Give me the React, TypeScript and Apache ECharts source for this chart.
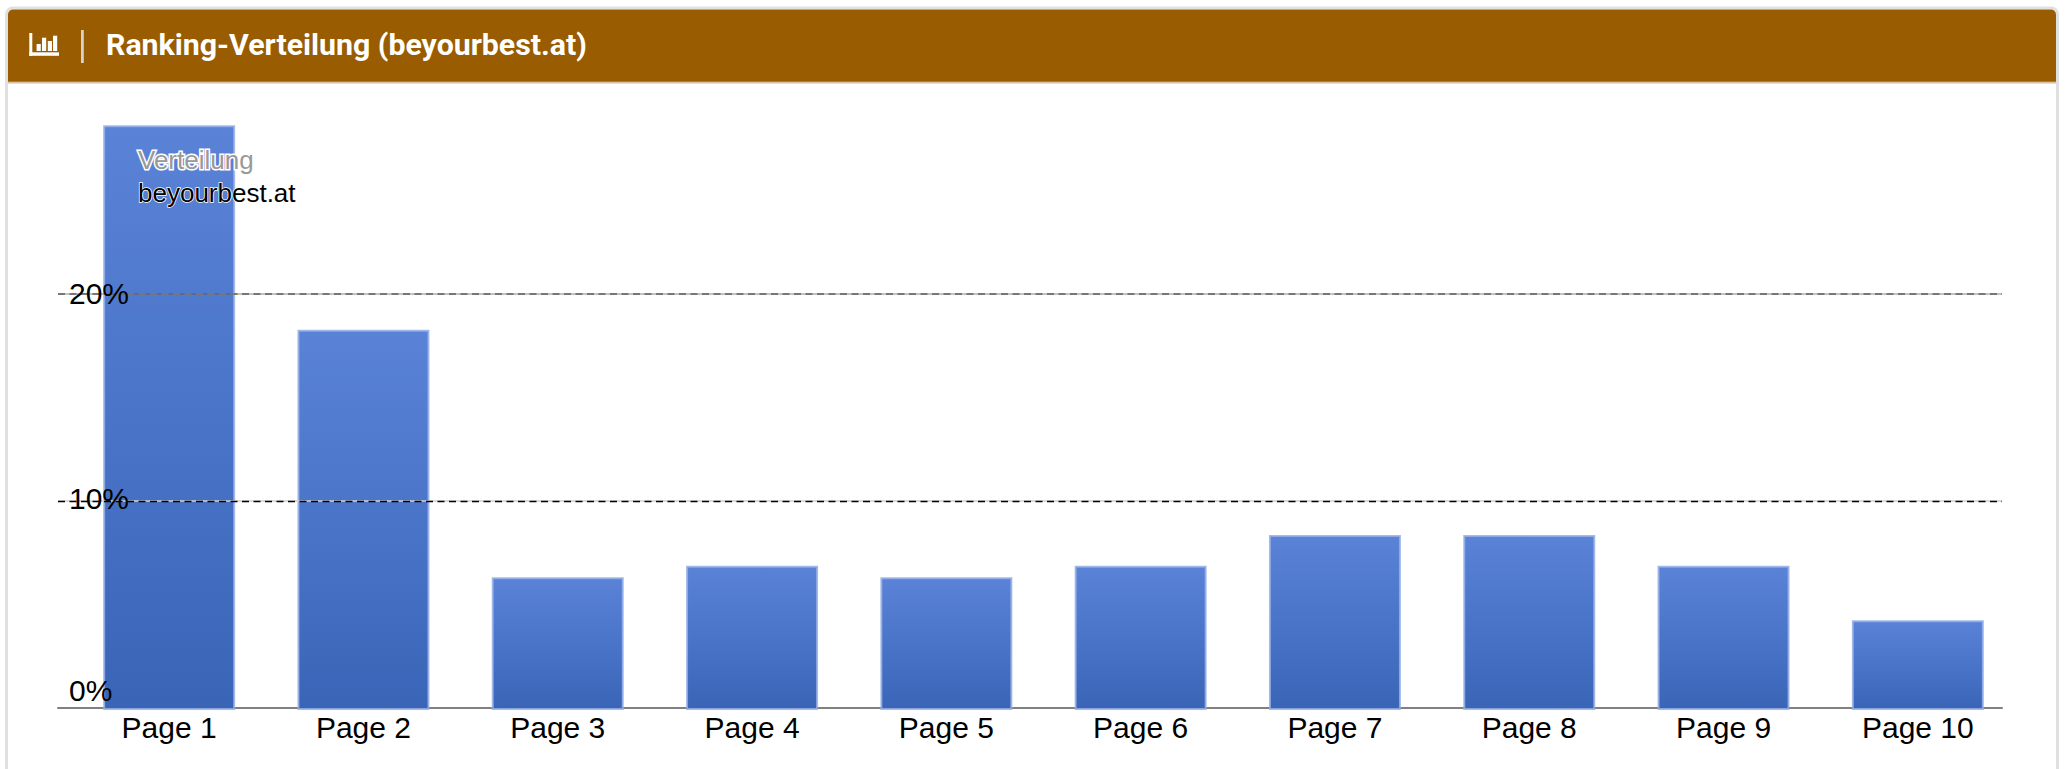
import React, { useEffect, useRef } from "react";
import * as echarts from "echarts";

const categories = ["Page 1", "Page 2", "Page 3", "Page 4", "Page 5", "Page 6", "Page 7", "Page 8", "Page 9", "Page 10"];
const shareValues = [28.3, 18.4, 6.42, 6.98, 6.42, 6.98, 8.47, 8.47, 6.98, 4.34];
const cardTitle = "Ranking-Verteilung (beyourbest.at)";
const legendTitle = "Verteilung";
const seriesName = "beyourbest.at";
const axisMax = 30;
const axisStep = 10;

const iconRects = [
  [29.3, 33, 3, 23],
  [29.3, 52.3, 29.7, 3.5],
  [36.6, 44, 4.2, 7],
  [42, 37.7, 4.2, 13.3],
  [47.8, 41, 4.2, 10],
  [53, 35.7, 4.2, 15.3],
];

export default function App() {
  const ref = useRef<HTMLDivElement>(null);
  useEffect(() => {
    const chart = echarts.init(ref.current!, undefined, { renderer: "svg" });
    const labelFont = { fontFamily: "Liberation Sans", fontSize: 30, color: "#000" };
    chart.setOption({
      animation: false,
      backgroundColor: "#fff",
      title: [
        {
          text: cardTitle,
          left: 106,
          top: 29,
          padding: 0,
          textStyle: { fontFamily: "Roboto", fontWeight: 700, fontSize: 30.3, color: "#fff" },
        },
        {
          text: legendTitle,
          left: 138,
          top: 147,
          padding: 0,
          textStyle: {
            fontFamily: "Liberation Sans", fontWeight: 400, fontSize: 26, color: "#999",
            textBorderColor: "#fff", textBorderWidth: 3,
          },
        },
        {
          text: seriesName,
          left: 138,
          top: 180,
          padding: 0,
          textStyle: {
            fontFamily: "Liberation Sans", fontWeight: 400, fontSize: 26, color: "#000",
            textBorderColor: "#fff", textBorderWidth: 1.5,
          },
        },
      ],
      graphic: [
        { type: "rect", shape: { x: 6.5, y: 8, width: 2051, height: 800, r: 6 }, style: { fill: "#fff", stroke: "#e0e0e0", lineWidth: 3 } },
        { type: "rect", shape: { x: 8, y: 9.5, width: 2048, height: 72.5, r: [5, 5, 0, 0] }, style: { fill: "#995c00" } },
        { type: "rect", shape: { x: 8, y: 81.5, width: 2048, height: 1.2 }, style: { fill: "#c4a270" } },
        { type: "rect", shape: { x: 8, y: 82.7, width: 2048, height: 1.3 }, style: { fill: "#e0e0e0" } },
        { type: "rect", shape: { x: 81, y: 30, width: 2.8, height: 33 }, style: { fill: "#d2d2d2" } },
        ...iconRects.map(([x, y, width, height]) => ({
          type: "rect",
          shape: { x, y, width, height },
          style: { fill: "#fff" },
        })),
      ],
      grid: [
        { left: 58, width: 1944, top: 87.5, height: 620 },
        { left: 72, width: 1943, top: 90, height: 620 },
      ],
      xAxis: [
        {
          type: "category", gridIndex: 0, data: categories,
          axisLine: { show: true, lineStyle: { color: "#808080", width: 2 } },
          axisTick: { show: false }, axisLabel: { show: false }, splitLine: { show: false },
        },
        {
          type: "category", gridIndex: 1, data: categories,
          axisLine: { show: false }, axisTick: { show: false },
          axisLabel: { ...labelFont, fontSize: 30, margin: 2, interval: 0 },
        },
      ],
      yAxis: [
        {
          type: "value", gridIndex: 0, min: 0, max: axisMax, interval: axisStep, z: 10,
          axisLine: { show: false }, axisTick: { show: false }, splitLine: { show: false },
          axisLabel: {
            ...labelFont, inside: true, margin: 11, showMaxLabel: false,
            formatter: (v: number) => (v === 0 ? `{zero|${v}%}` : v === 10 ? `{ten|${v}%}` : `{top|${v}%}`),
            rich: {
              zero: { ...labelFont, padding: [0, 0, 35, 0] },
              ten: { ...labelFont, padding: [0, 0, 4, 0] },
              top: { ...labelFont, padding: [0, 0, 2, 0] },
            },
          },
        },
        {
          type: "value", gridIndex: 1, min: 0, max: axisMax, interval: axisStep, show: false,
          splitLine: { show: false },
        },
      ],
      series: [
        {
          type: "bar",
          name: seriesName,
          xAxisIndex: 1,
          yAxisIndex: 1,
          data: shareValues,
          barWidth: 132,
          itemStyle: {
            color: new echarts.graphic.LinearGradient(0, 0, 0, 1, [
              { offset: 0, color: "#5a83d8" },
              { offset: 1, color: "#3a65b7" },
            ]),
            borderColor: "rgba(150,175,230,0.85)",
            borderWidth: 2,
          },
        },
        {
          type: "line",
          name: "grid lines",
          xAxisIndex: 0,
          yAxisIndex: 0,
          data: [],
          z: 5,
          symbol: "none",
          markLine: {
            silent: true,
            symbol: ["none", "none"],
            label: { show: false },
            z: 5,
            data: [
              { yAxis: 20, lineStyle: { type: "solid", color: "rgba(80,80,80,0.35)", width: 2, opacity: 1 } },
              { yAxis: 20, lineStyle: { type: [7, 4.5], color: "#777", width: 2, opacity: 1 } },
              { yAxis: 10, lineStyle: { type: "solid", color: "#d0d0d0", width: 1.6, opacity: 1 } },
              { yAxis: 10, lineStyle: { type: [7, 4.5], color: "#000", width: 1.4, opacity: 1 } },
            ],
          },
        },
      ],
    });
    return () => chart.dispose();
  }, []);
  return <div ref={ref} style={{ position: "absolute", left: 0, top: 0, width: 2070, height: 769 }} />;
}
